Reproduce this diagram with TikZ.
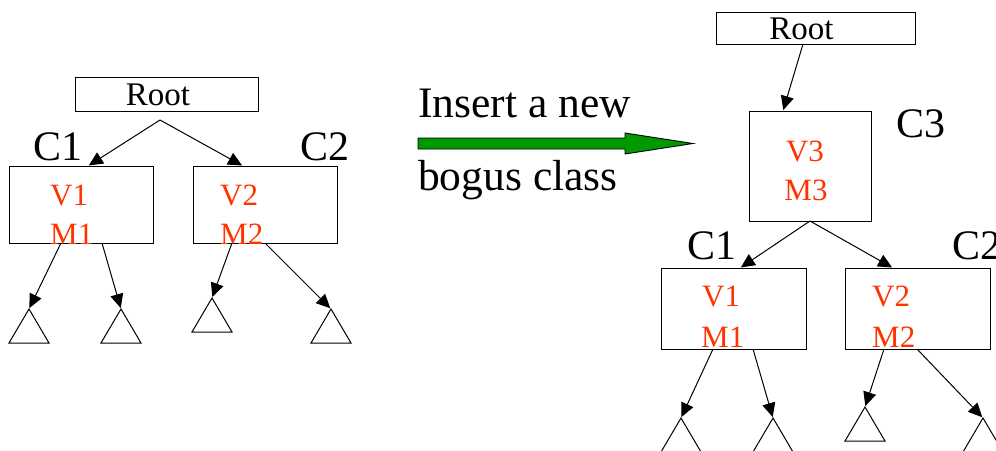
\documentclass[tikz,border=0pt]{standalone}
\usepackage{fontspec}
\setmainfont{Liberation Serif}
\usetikzlibrary{arrows.meta,calc}
\definecolor{clsred}{HTML}{FF3300}
\definecolor{insgreen}{HTML}{009900}

\begin{document}
\begin{tikzpicture}[
      x=1pt,y=-1pt,
      cbox/.style n args={2}{
        draw,
        line width=1pt,
        minimum width=#1,
        minimum height=#2,
        inner sep=0pt,
        outer sep=0pt
      },
      roottxt/.style={
        font=\fontsize{33}{33}\selectfont,
        anchor=base,
        inner sep=0pt
      },
      vmtxt/.style={
        font=\fontsize{31}{31}\selectfont,
        text=clsred,
        anchor=base west,
        inner sep=0pt
      },
      clslbl/.style={
        font=\fontsize{42}{42}\selectfont,
        anchor=base west,
        inner sep=0pt
      },
      instxt/.style={
        font=\fontsize{43.5}{43.5}\selectfont,
        anchor=base west,
        inner sep=0pt
      },
      arr/.style={
        -{Triangle[length=14pt,width=13pt]},
        line width=1pt,
        shorten >=1pt
      },
      tri/.style={line width=1pt}
    ]

    \useasboundingbox (0,0) rectangle (996,450);
    \clip (0,0) rectangle (996,450);

    % before
    \node[cbox={183pt}{34pt}] (rootl) at (166.5,94) {};
    \node[roottxt] (rootlt) at (158,105) {Root};
    \node[cbox={144pt}{77pt}] (b1l) at (81,204.5) {};
    \node[cbox={144pt}{77pt}] (b2l) at (265,204.5) {};
    \node[clslbl] (c1l) at (33,160) {C1};
    \node[clslbl] (c2l) at (300,160) {C2};
    \node[vmtxt] (v1l) at (50,205) {V1};
    \node[vmtxt] (m1l) at (50,244) {M1};
    \node[vmtxt] (v2l) at (220,205) {V2};
    \node[vmtxt] (m2l) at (220,244) {M2};

    % after
    \node[cbox={199pt}{32pt}] (rootr) at (815.5,28) {};
    \node[roottxt] (rootrt) at (801.5,39) {Root};
    \node[cbox={122pt}{110pt}] (c3) at (810,166) {};
    \node[roottxt,font=\fontsize{31}{31}\selectfont,text=clsred] (v3) at (805,161) {V3};
    \node[roottxt,font=\fontsize{31}{31}\selectfont,text=clsred] (m3) at (806,200) {M3};
    \node[clslbl] (c3t) at (896,137) {C3};
    \node[cbox={145pt}{81pt}] (b1r) at (733.5,308.5) {};
    \node[cbox={145pt}{81pt}] (b2r) at (917.5,308.5) {};
    \node[clslbl] (c1r) at (687,259) {C1};
    \node[clslbl] (c2r) at (952,259) {C2};
    \node[vmtxt] (v1r) at (702,306) {V1};
    \node[vmtxt] (m1r) at (701,347) {M1};
    \node[vmtxt] (v2r) at (872,306) {V2};
    \node[vmtxt] (m2r) at (872,347) {M2};

    \foreach \n/\x/\y in {1/29/309, 2/121/309, 3/212/298, 4/331/309,
                          5/681/418, 6/773/418, 7/865/407, 8/983/418} {
      \coordinate (t\n) at (\x,\y);
      \draw[tri] (t\n) -- ++(-20,34) -- ++(40,0) -- cycle;
    }

    \coordinate (sl) at ($(rootl.south west)+(85,9)$);
    \draw[arr] (sl) -- ($(b1l.north west)+(79,0)$);
    \draw[arr] (sl) -- ($(b2l.north west)+(50,0)$);
    \draw[arr] ($(b1l.south west)+(52,0)$) -- (t1);
    \draw[arr] ($(b1l.south west)+(93,0)$) -- (t2);
    \draw[arr] ($(b2l.south west)+(39,0)$) -- (t3);
    \draw[arr] ($(b2l.south west)+(72,0)$) -- (t4);

    \draw[arr] ($(rootr.south west)+(87,0)$) -- ($(c3.north west)+(34,0)$);
    \draw[arr] ($(c3.south west)+(61,0)$) -- ($(b1r.north west)+(79,0)$);
    \draw[arr] ($(c3.south west)+(61,0)$) -- ($(b2r.north west)+(48,0)$);
    \draw[arr] ($(b1r.south west)+(52,0)$) -- (t5);
    \draw[arr] ($(b1r.south west)+(92,0)$) -- (t6);
    \draw[arr] ($(b2r.south west)+(39,0)$) -- (t7);
    \draw[arr] ($(b2r.south west)+(72,0)$) -- (t8);

    % insert arrow
    \node[instxt] (ins1) at (418,117) {Insert a new};
    \node[instxt] (ins2) at (418,190) {bogus class};
    \draw[fill=insgreen,line width=0.9pt]
      (418,138) -- (625,138) -- (625,133) -- (693,143.5)
      -- (625,154) -- (625,149) -- (418,149) -- cycle;

  \end{tikzpicture}
\end{document}
